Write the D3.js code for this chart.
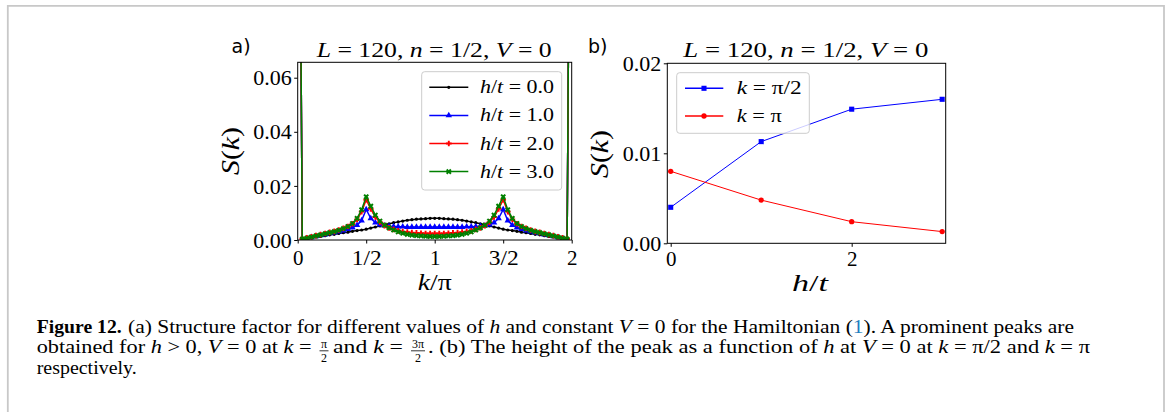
<!DOCTYPE html>
<html><head><meta charset="utf-8">
<script src="https://cdn.jsdelivr.net/npm/d3@7"></script>
<style>body{margin:0;background:#fff} svg{display:block}</style>
</head><body>
<svg id="c" width="1167" height="412"></svg>
<script>
// ---------------- data ----------------
// k/pi sampling grid (k = 2*pi*m/60, m = 0..60)
const kGrid = d3.range(61).map(m => m / 30);
const seriesLabels = ["h/t = 0.0", "h/t = 1.0", "h/t = 2.0", "h/t = 3.0"];
const S_h0 = [0.25,0.0003,0.0005,0.0008,0.0011,0.0013,0.0016,0.0019,0.0021,0.0024,0.0027,0.0029,0.0032,0.0035,0.0037,0.0040,0.0044,0.0048,0.0052,0.0056,0.0060,0.0064,0.0067,0.0070,0.0073,0.0075,0.0077,0.0078,0.0079,0.0080,0.0080,
  0.0080,0.0079,0.0078,0.0077,0.0075,0.0073,0.0070,0.0067,0.0064,0.0060,0.0056,0.0052,0.0048,0.0044,0.0040,0.0037,0.0035,0.0032,0.0029,0.0027,0.0024,0.0021,0.0019,0.0016,0.0013,0.0011,0.0008,0.0005,0.0003,0.25];
const S_h1 = [0.25,0.0003,0.0006,0.0010,0.0013,0.0017,0.0020,0.0024,0.0027,0.0031,0.0035,0.0040,0.0046,0.0055,0.0072,0.0113,0.0080,0.0064,0.0057,0.0053,0.0051,0.0050,0.0049,0.0049,0.0048,0.0048,0.0048,0.0048,0.0048,0.0048,0.0048,
  0.0048,0.0048,0.0048,0.0048,0.0048,0.0048,0.0049,0.0049,0.0050,0.0051,0.0053,0.0057,0.0064,0.0080,0.0113,0.0072,0.0055,0.0046,0.0040,0.0035,0.0031,0.0027,0.0024,0.0020,0.0017,0.0013,0.0010,0.0006,0.0003,0.25];
const S_h2 = [0.25,0.0004,0.0008,0.0012,0.0016,0.0020,0.0024,0.0028,0.0032,0.0037,0.0043,0.0050,0.0060,0.0076,0.0105,0.0149,0.0115,0.0085,0.0066,0.0053,0.0045,0.0039,0.0034,0.0031,0.0029,0.0027,0.0026,0.0025,0.0024,0.0024,0.0024,
  0.0024,0.0024,0.0025,0.0026,0.0027,0.0029,0.0031,0.0034,0.0039,0.0045,0.0053,0.0066,0.0085,0.0115,0.0149,0.0105,0.0076,0.0060,0.0050,0.0043,0.0037,0.0032,0.0028,0.0024,0.0020,0.0016,0.0012,0.0008,0.0004,0.25];
const S_h3 = [0.25,0.0003,0.0007,0.0011,0.0015,0.0019,0.0023,0.0027,0.0031,0.0036,0.0042,0.0050,0.0061,0.0080,0.0112,0.0160,0.0125,0.0092,0.0070,0.0055,0.0045,0.0037,0.0030,0.0025,0.0021,0.0018,0.0016,0.0015,0.0014,0.0013,0.0013,
  0.0013,0.0014,0.0015,0.0016,0.0018,0.0021,0.0025,0.0030,0.0037,0.0045,0.0055,0.0070,0.0092,0.0125,0.0160,0.0112,0.0080,0.0061,0.0050,0.0042,0.0036,0.0031,0.0027,0.0023,0.0019,0.0015,0.0011,0.0007,0.0003,0.25];

const hValues = [0, 1, 2, 3];
const peakHalfPi = [0.0040, 0.0113, 0.0149, 0.0160];
const peakPi = [0.0080, 0.0048, 0.0024, 0.0013];

const xTickValsA = [0, 0.5, 1, 1.5, 2];
const xTickLabsA = ["0", "1/2", "1", "3/2", "2"];
const yTickValsA = [0, 0.02, 0.04, 0.06];
const yTickLabsA = ["0.00", "0.02", "0.04", "0.06"];
const xTickValsB = [0, 2];
const xTickLabsB = ["0", "2"];
const yTickValsB = [0, 0.01, 0.02];
const yTickLabsB = ["0.00", "0.01", "0.02"];

// ---------------- drawing ----------------
const SERIF = "'Liberation Serif', 'Times New Roman', serif";
const SANS = "'DejaVu Sans', sans-serif";
const svg = d3.select('#c');
svg.append('rect').attr('width', 1167).attr('height', 412).attr('fill', '#fff');
svg.append('path').attr('d', 'M7.8,412 V5.8 H1164 V412').attr('fill', 'none')
  .attr('stroke', '#c8c8c8').attr('stroke-width', 1.8);

function rich(sel, parts) {
  parts.forEach(p => {
    const t = sel.append('tspan').text(p[0]);
    if (p[1] === 'i') t.attr('font-style', 'italic');
    if (p[1] === 'b') t.attr('font-weight', 'bold');
    if (p[2]) t.attr('fill', p[2]);
  });
  return sel;
}
function txt(x, y, parts, o) {
  o = o || {};
  const t = svg.append('text').attr('x', x).attr('y', y)
    .attr('font-family', o.family || SERIF).attr('font-size', o.size || 18)
    .attr('text-anchor', o.anchor || 'start').attr('fill', '#000');
  if (o.len) t.attr('textLength', o.len).attr('lengthAdjust', 'spacingAndGlyphs');
  if (o.rotate) t.attr('transform', `rotate(${o.rotate},${x},${y})`);
  rich(t, parts);
  return t;
}

const markerSym = {
  dot: d3.symbol().type(d3.symbolCircle).size(8),
  tri: d3.symbol().type(d3.symbolTriangle).size(18),
  plus: d3.symbol().type(d3.symbolCross).size(18),
  xx: d3.symbol().type(d3.symbolCross).size(20),
  sq: d3.symbol().type(d3.symbolSquare).size(26),
  circ: d3.symbol().type(d3.symbolCircle).size(22)
};

function tickLen(s) {
  if (s.length === 4) return 38.5;
  if (s.length === 3) return 30;
  return null;
}
function styleAxis(g) {
  g.select('.domain').remove();
  g.selectAll('.tick line').attr('stroke', '#000').attr('stroke-width', 1);
  g.selectAll('.tick text').attr('font-family', SERIF).attr('font-size', 21).attr('fill', '#000')
    .each(function () {
      const s = d3.select(this).text();
      const L = tickLen(s);
      if (L) d3.select(this).attr('textLength', L).attr('lengthAdjust', 'spacingAndGlyphs');
    });
}

// ======== Panel a ========
const xa = d3.scaleLinear().domain([0, 2]).range([297.7, 571.7]);
const ya = d3.scaleLinear().domain([0, 0.0657]).range([240, 62.3]);

svg.append('clipPath').attr('id', 'clipA').append('rect')
  .attr('x', xa.range()[0]).attr('y', ya.range()[1])
  .attr('width', xa.range()[1] - xa.range()[0]).attr('height', ya.range()[0] - ya.range()[1]);

const gxa = svg.append('g').attr('transform', `translate(0,${ya(0)})`)
  .call(d3.axisBottom(xa).tickValues(xTickValsA).tickFormat((d, i) => xTickLabsA[i]).tickSize(3.5));
styleAxis(gxa);
gxa.selectAll('.tick text').attr('dy', null).attr('y', 24.5);
const gya = svg.append('g').attr('transform', `translate(${xa(0)},0)`)
  .call(d3.axisLeft(ya).tickValues(yTickValsA).tickFormat((d, i) => yTickLabsA[i]).tickSize(3.5));
styleAxis(gya);
gya.selectAll('.tick text').attr('dy', '0.34em').attr('x', -6);

const seriesA = [
  {v: S_h0, c: '#000000', m: 'dot'},
  {v: S_h1, c: '#0000ff', m: 'tri'},
  {v: S_h2, c: '#ff0000', m: 'plus'},
  {v: S_h3, c: '#008000', m: 'xx'}
];
const gData = svg.append('g').attr('clip-path', 'url(#clipA)');
seriesA.forEach(s => {
  const line = d3.line().x((d, i) => xa(kGrid[i])).y(d => ya(d));
  gData.append('path').attr('d', line(s.v)).attr('fill', 'none')
    .attr('stroke', s.c).attr('stroke-width', 1.5);
  gData.selectAll(null).data(s.v).enter().append('path')
    .attr('d', markerSym[s.m])
    .attr('transform', (d, i) => `translate(${xa(kGrid[i])},${ya(d)})` + (s.m === 'xx' ? ' rotate(45)' : ''))
    .attr('fill', s.c);
});
svg.append('rect').attr('x', xa.range()[0]).attr('y', ya.range()[1])
  .attr('width', xa.range()[1] - xa.range()[0]).attr('height', ya.range()[0] - ya.range()[1])
  .attr('fill', 'none').attr('stroke', '#000').attr('stroke-width', 1);

// legend a
svg.append('rect').attr('x', 421.7).attr('y', 71.7).attr('width', 140).attr('height', 118.3)
  .attr('rx', 3).attr('fill', '#fff').attr('fill-opacity', 0.8).attr('stroke', '#cccccc').attr('stroke-width', 1);
seriesA.forEach((s, i) => {
  const y = 87.3 + i * 28.1;
  svg.append('line').attr('x1', 429.3).attr('x2', 468.3).attr('y1', y).attr('y2', y)
    .attr('stroke', s.c).attr('stroke-width', 1.5);
  svg.append('path').attr('d', markerSym[s.m])
    .attr('transform', `translate(448.8,${y})` + (s.m === 'xx' ? ' rotate(45)' : '')).attr('fill', s.c);
  const lab = seriesLabels[i];
  txt(480, y + 6, [['h', 'i'], ['/', 'n'], ['t', 'i'], [lab.slice(3), 'n']], {size: 18, len: 74});
});

// titles and labels a
txt(231.5, 53.3, [['a)', 'n']], {family: SANS, size: 19});
txt(316.7, 56.7, [['L', 'i'], [' = 120, ', 'n'], ['n', 'i'], [' = 1/2, ', 'n'], ['V', 'i'], [' = 0', 'n']], {size: 20, len: 235});
txt(239, 151, [['S', 'i'], ['(', 'n'], ['k', 'i'], [')', 'n']], {size: 25, anchor: 'middle', rotate: -90, len: 48});
txt(434.7, 290, [['k', 'i'], ['/π', 'n']], {size: 23, anchor: 'middle', len: 34});

// ======== Panel b ========
const xb = d3.scaleLinear().domain([-0.0376, 3.039]).range([667.3, 945.7]);
const yb = d3.scaleLinear().domain([0, 0.02]).range([243.3, 63.3]);

const gxb = svg.append('g').attr('transform', `translate(0,${yb(0)})`)
  .call(d3.axisBottom(xb).tickValues(xTickValsB).tickFormat((d, i) => xTickLabsB[i]).tickSize(3.5));
styleAxis(gxb);
gxb.selectAll('.tick text').attr('dy', null).attr('y', 23);
const gyb = svg.append('g').attr('transform', `translate(${xb.range()[0]},0)`)
  .call(d3.axisLeft(yb).tickValues(yTickValsB).tickFormat((d, i) => yTickLabsB[i]).tickSize(3.5));
styleAxis(gyb);
gyb.selectAll('.tick text').attr('dy', '0.34em').attr('x', -6);

const seriesB = [
  {v: peakHalfPi, c: '#0000ff', m: 'sq'},
  {v: peakPi, c: '#ff0000', m: 'circ'}
];
seriesB.forEach(s => {
  const line = d3.line().x((d, i) => xb(hValues[i])).y(d => yb(d));
  svg.append('path').attr('d', line(s.v)).attr('fill', 'none').attr('stroke', s.c).attr('stroke-width', 1);
  svg.selectAll(null).data(s.v).enter().append('path')
    .attr('d', markerSym[s.m])
    .attr('transform', (d, i) => `translate(${xb(hValues[i])},${yb(d)})`).attr('fill', s.c);
});
svg.append('rect').attr('x', xb.range()[0]).attr('y', yb.range()[1])
  .attr('width', xb.range()[1] - xb.range()[0]).attr('height', yb.range()[0] - yb.range()[1])
  .attr('fill', 'none').attr('stroke', '#000').attr('stroke-width', 1);

// legend b
svg.append('rect').attr('x', 676.7).attr('y', 72.7).attr('width', 132.6).attr('height', 60.6)
  .attr('rx', 3).attr('fill', '#fff').attr('fill-opacity', 0.8).attr('stroke', '#cccccc').attr('stroke-width', 1);
const legB = [
  [['k', 'i'], [' = π/2', 'n']],
  [['k', 'i'], [' = π', 'n']]
];
const legBLen = [65, 45];
seriesB.forEach((s, i) => {
  const y = 88.3 + i * 27.7;
  svg.append('line').attr('x1', 685).attr('x2', 723.3).attr('y1', y).attr('y2', y)
    .attr('stroke', s.c).attr('stroke-width', 1.5);
  svg.append('path').attr('d', markerSym[s.m]).attr('transform', `translate(704,${y})`).attr('fill', s.c);
  txt(736.7, y + 6, legB[i], {size: 18, len: legBLen[i]});
});

txt(588, 53, [['b)', 'n']], {family: SANS, size: 19});
txt(683.3, 56.7, [['L', 'i'], [' = 120, ', 'n'], ['n', 'i'], [' = 1/2, ', 'n'], ['V', 'i'], [' = 0', 'n']], {size: 20, len: 245});
txt(608, 154, [['S', 'i'], ['(', 'n'], ['k', 'i'], [')', 'n']], {size: 25, anchor: 'middle', rotate: -90, len: 48});
txt(810, 291, [['h', 'i'], ['/', 'n'], ['t', 'i']], {size: 23, anchor: 'middle', len: 36});

// ======== Caption ========
txt(36.7, 332.5, [['Figure 12.', 'b']], {size: 18.5, len: 85});
txt(128, 332.5, [['(a) Structure factor for different values of ', 'n'], ['h', 'i'], [' and constant ', 'n'], ['V', 'i'],
  [' = 0 for the Hamiltonian (', 'n'], ['1', 'n', '#1f7fc0'], ['). A prominent peaks are', 'n']], {size: 18.5, len: 946});
txt(36.7, 353.3, [['obtained for ', 'n'], ['h', 'i'], [' > 0, ', 'n'], ['V', 'i'], [' = 0 at ', 'n'], ['k', 'i'], [' =', 'n']], {size: 18.5, len: 275});
function frac(cx, num, w) {
  txt(cx, 347.5, [[num, 'n']], {size: 12, anchor: 'middle'});
  svg.append('line').attr('x1', cx - w / 2).attr('x2', cx + w / 2).attr('y1', 350.8).attr('y2', 350.8)
    .attr('stroke', '#000').attr('stroke-width', 0.8);
  txt(cx, 361.5, [['2', 'n']], {size: 12, anchor: 'middle'});
}
frac(324, 'π', 9);
txt(333, 353.3, [['and ', 'n'], ['k', 'i'], [' =', 'n']], {size: 18.5, len: 70});
frac(418, '3π', 14);
txt(428, 353.3, [['. (b) The height of the peak as a function of ', 'n'], ['h', 'i'], [' at ', 'n'], ['V', 'i'], [' = 0 at ', 'n'],
  ['k', 'i'], [' = π/2 and ', 'n'], ['k', 'i'], [' = π', 'n']], {size: 18.5, len: 662});
txt(36.7, 374, [['respectively.', 'n']], {size: 18.5, len: 100});
</script></body></html>
